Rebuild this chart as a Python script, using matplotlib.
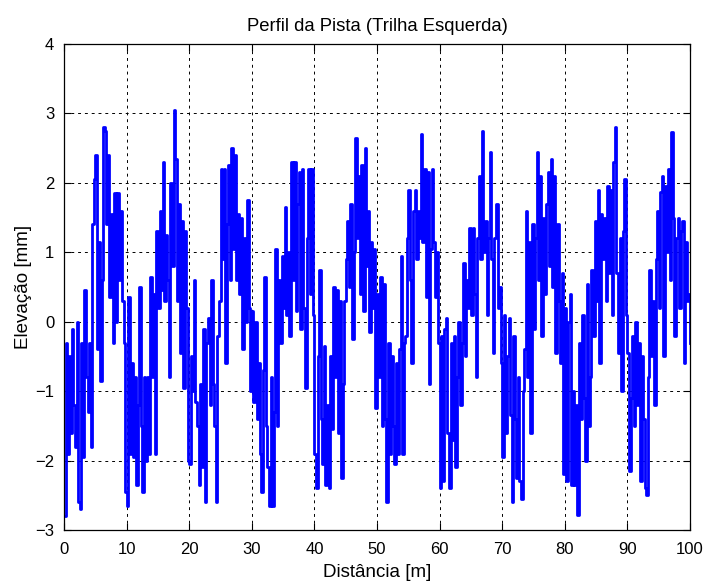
"""Perfil da pista - trilha esquerda."""

import matplotlib

matplotlib.use("Agg")
import matplotlib.pyplot as plt
import numpy as np

# elevation [mm], one sample every 0.25 m
elev_00_20 = [
    -2.8, -0.3, -1.9, -0.5, -1.6, -0.1, -1.2, -1.8, 0.0, -2.6, -2.7, -0.3, -1.95, 0.45, -0.8, -1.3, -0.3, -1.8, 1.4, 2.05,
    2.4, -0.4, 1.15, -0.85, 0.6, 2.8, 2.75, 1.4, 2.4, 0.35, 1.55, -0.3, 1.85, 0.0, 1.85, 0.6, 1.6, 0.3, -0.3, -2.45,
    -2.65, 0.35, -1.9, -0.6, -1.95, -0.8, -2.35, -1.2, 0.5, -1.5, -2.45, -0.8, -2.0, -0.8, -1.9, 0.65, -0.8, 0.4, -1.9, 1.3,
    0.2, 1.6, 0.45, 2.3, 0.3, 1.25, 0.6, -0.8, 2.0, 0.8, 3.05, 2.35, 0.3, 1.7, -0.45, 1.45, -0.95, 1.3, 0.2, -2.0,
]
elev_20_40 = [
    -2.05, -0.5, -1.0, 0.6, -1.15, -1.5, -2.35, -0.9, -2.1, -0.1, -2.6, -0.3, 0.05, -1.2, 0.6, -0.9, -1.5, -2.6, -0.2, 0.3,
    2.2, 0.9, 2.2, -0.6, 1.4, 2.25, 0.6, 2.5, 1.05, 2.4, 0.6, 1.55, 0.4, 1.5, -0.4, 1.2, 0.0, 1.75, 0.2, -1.0,
    0.15, -1.15, 0.0, -1.4, -0.6, -1.9, -2.45, -0.7, 0.65, -1.5, -2.1, -2.65, -0.8, -2.65, -1.3, 1.05, -1.5, 0.6, -0.3, 0.95,
    0.2, 1.65, 0.1, 1.0, -0.2, 2.3, 0.6, 2.3, 0.15, 1.7, 2.15, -0.1, 2.2, 0.2, -0.95, 1.2, 2.2, 0.4, 2.2, 0.1,
]
elev_40_60 = [
    -1.9, -2.4, -0.5, 0.75, -1.4, -2.05, -0.35, -2.35, -1.2, -2.4, -0.5, -1.55, 0.5, -0.8, 0.45, -1.6, 0.3, -2.25, -0.9, 0.3,
    0.9, 1.45, 0.5, 1.7, -0.25, 1.0, 2.65, 1.2, 2.1, 0.4, 2.25, 0.15, 2.5, 0.8, 1.6, -0.15, 1.15, 0.2, 1.05, -1.25,
    0.4, -0.8, 0.65, -1.5, 0.55, -1.4, -2.6, -0.3, -1.9, -0.5, -1.5, -2.05, -0.6, -1.9, -0.4, 0.95, -1.9, -0.3, -0.2, 1.2,
    1.9, 0.6, -0.6, 1.6, 1.9, 0.9, 1.6, 1.2, 2.7, 1.15, 2.2, 0.35, 2.15, -0.9, 1.05, 2.2, 1.15, 0.35, 1.0, -0.3,
]
elev_60_80 = [
    -2.4, -0.2, -2.3, -0.1, 0.05, -1.6, -2.4, -0.3, -1.7, -0.2, -2.1, -0.8, 0.0, -1.2, -0.3, 0.85, -0.5, 0.6, 0.2, 1.35,
    0.1, 1.35, 0.4, -0.8, 1.2, 2.1, 0.9, 2.75, 1.0, 1.45, 0.1, 1.2, 2.45, 0.9, -0.45, 1.2, 1.7, 0.2, 0.5, -0.6,
    -1.95, 0.1, -1.6, -0.5, 0.05, -1.35, -2.6, -0.2, -1.4, -2.25, -0.8, -2.3, -2.55, -1.0, -0.4, 1.6, -0.8, 1.15, -1.6, 1.4,
    -0.1, 1.2, 2.45, 0.6, 2.1, -0.2, 1.5, 0.4, 1.7, 2.15, 0.8, 2.35, 0.5, 2.1, -0.45, 1.4, 0.3, -0.6, 0.7, -2.2,
]
elev_80_100 = [
    0.2, -2.3, 0.0, 0.4, -2.35, -1.0, -2.35, -1.2, -2.78, -0.3, -1.4, 0.1, -1.1, -2.0, 0.55, -1.5, -0.8, 0.75, -0.2, 1.45,
    0.3, 1.9, -0.6, 1.55, 0.9, 1.5, 0.3, 1.95, 0.7, 1.9, 0.1, 2.3, 2.8, 0.7, -0.45, 1.2, -1.0, 1.3, 2.05, 0.1,
    -0.45, -2.15, -1.1, -0.2, -1.5, 0.0, -1.2, -0.3, -2.3, -0.5, -1.4, -2.4, -2.5, -0.8, 0.75, -0.5, 0.3, -1.2, 0.9, 1.6,
    0.2, 1.87, 2.1, -0.5, 1.95, 1.0, 2.2, 0.6, 2.73, 1.5, -0.2, 1.2, 1.5, 0.2, 1.3, 1.45, -0.6, 1.15, 0.3, 0.4,
    -0.3,
]

x_ticks = [0, 10, 20, 30, 40, 50, 60, 70, 80, 90, 100]
y_ticks = [-3, -2, -1, 0, 1, 2, 3, 4]

elevation = np.array(elev_00_20 + elev_20_40 + elev_40_60 + elev_60_80 + elev_80_100)
distance = np.linspace(0, 100, len(elevation))

plt.rcParams["font.family"] = ["Liberation Sans", "DejaVu Sans"]

fig = plt.figure(figsize=(7.06, 5.84), dpi=100)
ax = fig.add_axes([0.0907, 0.0925, 0.8867, 0.8322])
ax.plot(distance, elevation, color="#0000ff", linewidth=2.0, drawstyle="steps-post")

ax.set_xlim(0, 100)
ax.set_ylim(-3, 4)
ax.set_xticks(x_ticks)
ax.set_yticks(y_ticks)
ax.grid(True, color="black", linestyle=(0, (3, 4)), linewidth=0.7)
ax.tick_params(direction="in", top=True, right=True, length=5, labelsize=12)
ax.tick_params(axis="x", pad=9)
ax.tick_params(axis="y", pad=7)
for spine in ax.spines.values():
    spine.set_linewidth(0.9)

ax.set_title("Perfil da Pista (Trilha Esquerda)", fontsize=13.3, pad=9)
ax.set_xlabel("Distância [m]", fontsize=13.5, labelpad=5)
ax.set_ylabel("Elevação [mm]", fontsize=13.5, labelpad=2)

fig.savefig("out.png", dpi=100)
plt.close(fig)
